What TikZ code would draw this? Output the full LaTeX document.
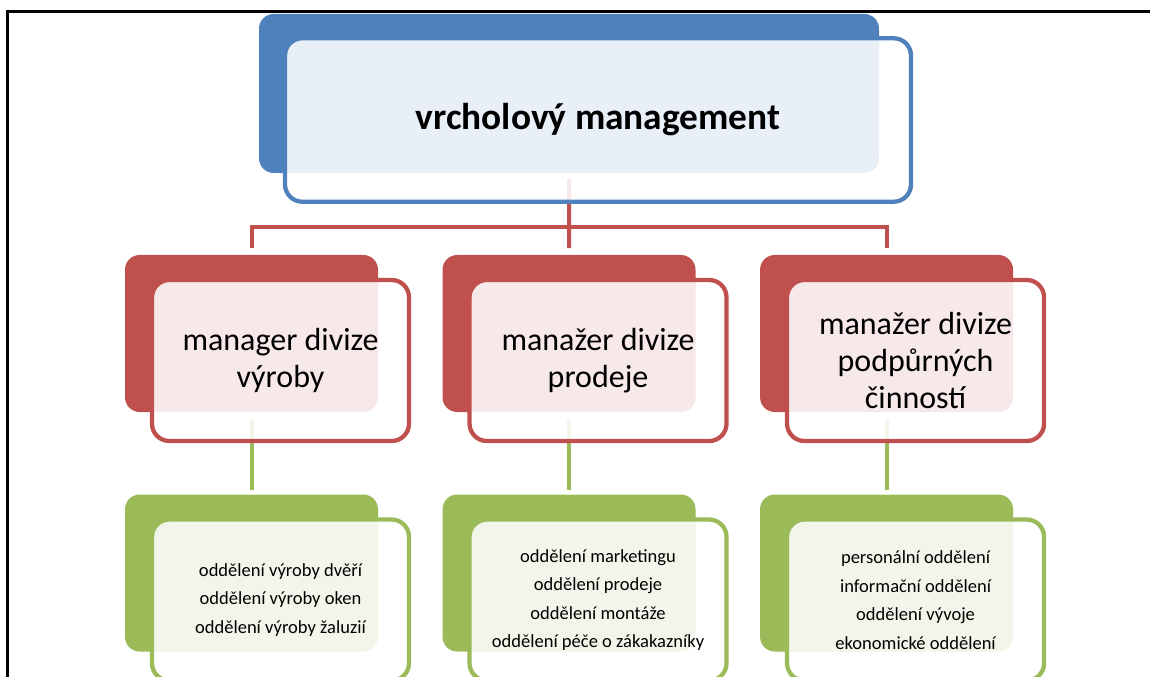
\documentclass[tikz,border=0pt]{standalone}
\usepackage{fontspec}
\setmainfont{Carlito}
\usetikzlibrary{positioning, calc}

\definecolor{topblue}{HTML}{4F81BD}
\definecolor{divred}{HTML}{C0504D}
\definecolor{deptgreen}{HTML}{9BBB59}

\begin{document}
\begin{tikzpicture}[
  x=0.75pt, y=-0.75pt,
  back/.style={rounded corners=11pt, minimum width=189.75pt,
               minimum height=117.75pt, inner sep=0pt},
  front/.style={draw, rounded corners=13pt, line width=3.2pt, fill=white,
                fill opacity=0.88, text opacity=1, minimum width=192.75pt,
                minimum height=120.75pt, align=center, inner sep=0pt},
  link/.style={line width=3pt},
  divtext/.style={font=\fontsize{24}{28}\selectfont},
  depttext/.style={font=\fontsize{13.9}{21.4}\selectfont}
]
\useasboundingbox (0,0) rectangle (1150,677);
\clip (0,0) rectangle (1150,677);

% frame
\draw[line width=1.6pt] (7.5,677) -- (7.5,11.5) -- (1150,11.5);

% back boxes
\node[back, fill=topblue, minimum width=465pt, minimum height=119.25pt] (topB) at (569,93.5) {};
\node[back, fill=divred]    (divA)  at (251.5,333.5) {};
\node[back, fill=divred,    right=48pt of divA] (divB) {};
\node[back, fill=divred,    right=48pt of divB] (divC) {};
\node[back, fill=deptgreen, below=61.5pt of divA] (depA) {};
\node[back, fill=deptgreen, below=61.5pt of divB] (depB) {};
\node[back, fill=deptgreen, below=61.5pt of divC] (depC) {};

% connectors
\draw[link, divred, shorten <=4pt, shorten >=5pt] (topB.south) -- (divB.north);
\draw[link, divred, shorten <=5pt, shorten >=5pt] (divA.north) -- ++(0,-28) -| (divC.north);
\draw[link, deptgreen, shorten <=5.5pt, shorten >=3pt] (divA.south) -- (depA.north);
\draw[link, deptgreen, shorten <=5.5pt, shorten >=3pt] (divB.south) -- (depB.north);
\draw[link, deptgreen, shorten <=5.5pt, shorten >=3pt] (divC.south) -- (depC.north);

% front boxes
\node[front, draw=topblue, minimum width=469.5pt, minimum height=122.6pt,
      font=\fontsize{28}{33}\selectfont\bfseries] (topF) at ($(topB)+(29,26.5)$)
  {vrcholový management};

\node[front, draw=divred, divtext] (divAF) at ($(divA)+(29,27)$) {manager divize\\výroby};
\node[front, draw=divred, divtext] (divBF) at ($(divB)+(29,27)$) {manažer divize\\prodeje};
\node[front, draw=divred, divtext] (divCF) at ($(divC)+(29,27)$) {manažer divize\\podpůrných\\činností};

\node[front, draw=deptgreen, depttext] (depAF) at ($(depA)+(29,27)$)
  {oddělení výroby dvěří\\oddělení výroby oken\\oddělení výroby žaluzií};
\node[front, draw=deptgreen, depttext] (depBF) at ($(depB)+(29,27)$)
  {oddělení marketingu\\oddělení prodeje\\oddělení montáže\\oddělení péče o zákakazníky};
\node[front, draw=deptgreen, depttext] (depCF) at ($(depC)+(29,27)$)
  {personální oddělení\\informační oddělení\\oddělení vývoje\\ekonomické oddělení};
\end{tikzpicture}
\end{document}
